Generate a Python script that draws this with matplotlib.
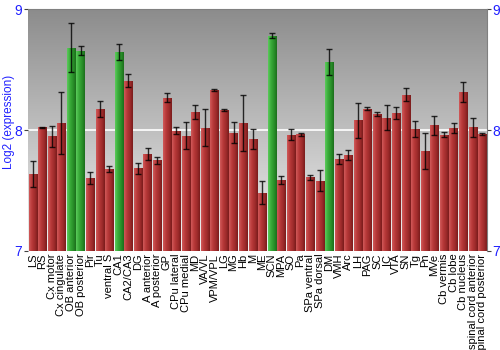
import numpy as np
import matplotlib.pyplot as plt
from matplotlib.colors import LinearSegmentedColormap

plt.rcParams["font.family"] = ["Liberation Sans", "DejaVu Sans"]

regions = ["LS", "RS", "Cx motor", "Cx cingulate", "OB anterior", "OB posterior",
           "Pir", "Tu", "ventral S", "CA1", "CA2/CA3", "DG", "A anterior",
           "A posterior", "GP", "CPu lateral", "CPu medial", "MD", "VA/VL",
           "VPM/VPL", "LG", "MG", "Hb", "M", "ME", "SCN", "MPA", "SO", "Pa",
           "SPa ventral", "SPa dorsal", "DM", "VMH", "Arc", "LH", "PAG", "SC",
           "IC", "VTA", "SN", "Tg", "Pn", "MVe", "Cb vermis", "Cb lobe",
           "Cb nucleus", "spinal cord anterior", "spinal cord posterior"]
expr = [7.635, 8.022, 7.95, 8.058, 8.682, 8.657, 7.602, 8.171, 7.677, 8.646,
        8.409, 7.682, 7.801, 7.751, 8.268, 7.994, 7.953, 8.149, 8.017, 8.331,
        8.163, 7.978, 8.058, 7.925, 7.483, 8.779, 7.586, 7.961, 7.964, 7.608,
        7.58, 8.564, 7.762, 7.796, 8.08, 8.177, 8.133, 8.102, 8.141, 8.29,
        8.008, 7.823, 8.039, 7.961, 8.019, 8.315, 8.022, 7.967]
err = [0.107, 0.005, 0.087, 0.26, 0.206, 0.035, 0.047, 0.065, 0.026, 0.069,
       0.054, 0.047, 0.051, 0.03, 0.04, 0.03, 0.113, 0.06, 0.153, 0.011,
       0.007, 0.088, 0.233, 0.086, 0.095, 0.021, 0.036, 0.047, 0.014, 0.022,
       0.087, 0.11, 0.041, 0.041, 0.145, 0.015, 0.014, 0.104, 0.052, 0.054,
       0.063, 0.149, 0.08, 0.019, 0.041, 0.086, 0.08, 0.01]
highlight = ["OB anterior", "OB posterior", "CA1", "SCN", "DM"]

ymin, ymax = 7, 9
blue = "#2020ff"

red_cmap = LinearSegmentedColormap.from_list(
    "red", ["#d05a5a", "#b83a3a", "#a02c2c", "#7a1c1c"])
green_cmap = LinearSegmentedColormap.from_list(
    "green", ["#5ccc5c", "#3aab3a", "#2a922a", "#1c6e1c"])
bg_cmap = LinearSegmentedColormap.from_list("bg", ["#f2f2f2", "#8c8c8c"])

fig = plt.figure(figsize=(5, 3.5), dpi=100)
ax = fig.add_axes([0.056, 0.283, 0.918, 0.691])

x = np.arange(len(regions))
ax.set_xlim(-0.5, len(regions) - 0.5)
ax.set_ylim(ymin, ymax)

# vertical gradient background
grad = np.linspace(0, 1, 256).reshape(-1, 1)
ax.imshow(grad, cmap=bg_cmap, aspect="auto", extent=[-0.5, len(regions) - 0.5, ymax, ymin],
          zorder=0, interpolation="bicubic")
ax.axhline(8, color="white", lw=1.2, zorder=1)

# bars with horizontal shading
hgrad = np.linspace(0, 1, 64).reshape(1, -1)
width = 0.86
bars = ax.bar(x, np.array(expr) - ymin, bottom=ymin, width=width, color="none",
              edgecolor="none", zorder=2)
for name, b in zip(regions, bars):
    cmap = green_cmap if name in highlight else red_cmap
    x0, y0 = b.get_x(), b.get_y()
    im = ax.imshow(hgrad, cmap=cmap, aspect="auto",
                   extent=[x0, x0 + b.get_width(), y0, y0 + b.get_height()],
                   zorder=2, interpolation="bilinear")
    im.set_clip_path(b)

ax.errorbar(x, expr, yerr=err, fmt="none", ecolor="black", elinewidth=1,
            capsize=2, capthick=1, alpha=0.8, zorder=3)

ax.set_xlim(-0.5, len(regions) - 0.5)
ax.set_ylim(ymin, ymax)

ax.set_xticks(x)
ax.set_xticklabels(regions, rotation=90, fontsize=8, color="black")
ax.tick_params(axis="x", length=0, pad=2)
ax.set_yticks([7, 8, 9])
ax.tick_params(axis="y", labelsize=10, length=3, width=0.8, color="#404040",
               labelcolor=blue, labelright=True, right=True, pad=1)
ax.set_ylabel("Log2 (expression)", color=blue, fontsize=8.5)
ax.yaxis.set_label_coords(-0.028, 0.535)

for side in ["top", "right", "left", "bottom"]:
    ax.spines[side].set_color("#808080")
    ax.spines[side].set_linewidth(0.8)
ax.spines["left"].set_visible(False)
ax.spines["bottom"].set_visible(False)

fig.savefig("out.png", dpi=100)
